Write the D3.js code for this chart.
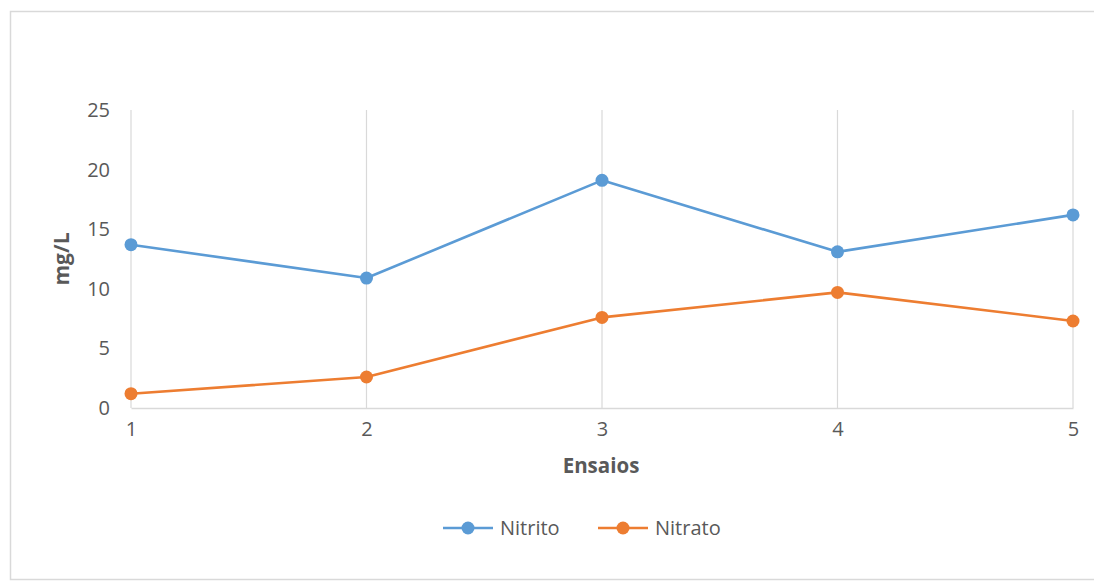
<!DOCTYPE html>
<html>
<head>
<meta charset="utf-8">
<script src="https://cdn.jsdelivr.net/npm/d3@7/dist/d3.min.js"></script>
<style>
  html, body { margin: 0; padding: 0; background: #ffffff; }
  svg { display: block; }
  text { font-family: "Open Sans", Lato, "Liberation Sans", sans-serif; }
</style>
</head>
<body>
<svg id="chart" width="1094" height="583"></svg>
<script>
// Trial numbers along the x axis
const ensaios = [1, 2, 3, 4, 5];
// Concentrations in mg/L
const nitrito = [13.7, 10.9, 19.1, 13.1, 16.2];
const nitrato = [1.2, 2.6, 7.6, 9.7, 7.3];
const yTicks = [0, 5, 10, 15, 20, 25];

const series = [
  { name: "Nitrito", values: nitrito, color: "#5B9BD5" },
  { name: "Nitrato", values: nitrato, color: "#ED7D31" }
];

const svg = d3.select("#chart");
const plot = { left: 131, right: 1073, top: 110, bottom: 408 };

// Outer chart frame
svg.append("rect")
  .attr("x", 10.5).attr("y", 11.5)
  .attr("width", 1100).attr("height", 568)
  .attr("fill", "#ffffff")
  .attr("stroke", "#d9d9d9").attr("stroke-width", 1.5);

const x = d3.scalePoint().domain(ensaios).range([plot.left, plot.right]);
const y = d3.scaleLinear().domain([0, 25]).range([plot.bottom, plot.top]);

// Vertical gridlines at each trial
svg.append("g")
  .selectAll("line")
  .data(ensaios)
  .join("line")
  .attr("x1", d => x(d)).attr("x2", d => x(d))
  .attr("y1", y(25)).attr("y2", y(0))
  .attr("stroke", "#d9d9d9").attr("stroke-width", 1.2);

// Horizontal axis
const xAxis = svg.append("g")
  .attr("transform", `translate(0,${y(0)})`)
  .call(d3.axisBottom(x).tickSize(0).tickPadding(14));
xAxis.select(".domain").attr("stroke", "#d9d9d9").attr("stroke-width", 1.5);
xAxis.selectAll("text")
  .attr("fill", "#595959")
  .style("font-size", "20px");

// Vertical axis labels
const yAxis = svg.append("g")
  .attr("transform", `translate(${plot.left},0)`)
  .call(d3.axisLeft(y).tickValues(yTicks).tickSize(0).tickPadding(21));
yAxis.select(".domain").remove();
yAxis.selectAll("text")
  .attr("fill", "#595959")
  .style("font-size", "20px");

// Axis titles
svg.append("text")
  .attr("transform", `translate(69,${(plot.top + plot.bottom) / 2}) rotate(-90)`)
  .attr("text-anchor", "middle")
  .attr("fill", "#595959")
  .style("font-size", "21px").style("font-weight", "bold")
  .text("mg/L");

svg.append("text")
  .attr("x", 601).attr("y", 473)
  .attr("text-anchor", "middle")
  .attr("fill", "#595959")
  .style("font-size", "20.5px").style("font-weight", "bold")
  .text("Ensaios");

// Lines and markers
const line = d3.line()
  .x((d, i) => x(ensaios[i]))
  .y(d => y(d));

series.forEach(s => {
  svg.append("path")
    .datum(s.values)
    .attr("fill", "none")
    .attr("stroke", s.color)
    .attr("stroke-width", 2.6)
    .attr("stroke-linejoin", "round")
    .attr("d", line);
  svg.append("g")
    .selectAll("circle")
    .data(s.values)
    .join("circle")
    .attr("cx", (d, i) => x(ensaios[i]))
    .attr("cy", d => y(d))
    .attr("r", 6.5)
    .attr("fill", s.color);
});

// Legend
const legend = svg.append("g").attr("transform", "translate(443,528)");
const legendX = [0, 155];
series.forEach((s, i) => {
  const g = legend.append("g").attr("transform", `translate(${legendX[i]},0)`);
  g.append("line")
    .attr("x1", 0).attr("x2", 50).attr("y1", 0).attr("y2", 0)
    .attr("stroke", s.color).attr("stroke-width", 2.6);
  g.append("circle").attr("cx", 25).attr("cy", 0).attr("r", 6.5).attr("fill", s.color);
  g.append("text")
    .attr("x", 57).attr("y", 0).attr("dy", "0.35em")
    .attr("fill", "#595959")
    .style("font-size", "20px")
    .text(s.name);
});
</script>
</body>
</html>
